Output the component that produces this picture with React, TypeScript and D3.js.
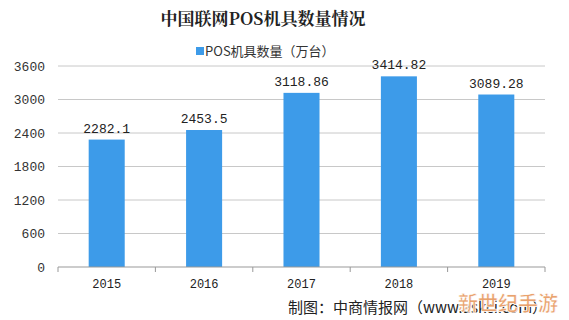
import React from "react";
import * as d3 from "d3";

const years = ["2015", "2016", "2017", "2018", "2019"];
const values = [2282.1, 2453.5, 3118.86, 3414.82, 3089.28];
const valueLabels = ["2282.1", "2453.5", "3118.86", "3414.82", "3089.28"];
const yTicks = [0, 600, 1200, 1800, 2400, 3000, 3600];
const title = "中国联网POS机具数量情况";
const seriesName = "POS机具数量（万台）";
const source = "制图：中商情报网（www.askci.com）";

export default function App() {
  const W = 569, H = 320;
  const left = 58, right = 545, top = 66, bottom = 267;
  const x = d3.scaleBand().domain(years).range([left, right]).paddingInner(0.63).paddingOuter(0.315);
  const band = d3.scaleBand().domain(years).range([left, right]);
  const y = d3.scaleLinear().domain([0, 3600]).range([bottom, top]);
  const color = "#3d9be9";
  const numFont = "'Liberation Mono', 'DejaVu Sans Mono', monospace";
  const cjk = "'Noto Sans CJK SC', sans-serif";
  return (
    <svg width={W} height={H} style={{ position: "absolute", left: 0, top: 0, background: "#fff" }}>
      <text x={263} y={25} textAnchor="middle" fontFamily="'Noto Serif CJK SC', 'Noto Sans CJK SC', serif" fontWeight="bold" fontSize={17} fill="#222">{title}</text>
      <rect x={196} y={47} width={8} height={8} fill={color} />
      <text x={205} y={56} fontFamily={cjk} fontSize={13} fill="#333">{seriesName}</text>
      {yTicks.map((t) => (
        <g key={t}>
          {t > 0 && <line x1={left} x2={right} y1={y(t)} y2={y(t)} stroke="#c8c8c8" strokeWidth={1} />}
          <text x={45} y={y(t) + 4.5} textAnchor="end" fontFamily={numFont} fontSize={13} fill="#333">{t}</text>
        </g>
      ))}
      {values.map((v, i) => (
        <rect key={years[i]} x={x(years[i])} y={y(v)} width={x.bandwidth()} height={bottom - y(v)} fill={color} />
      ))}
      {values.map((v, i) => (
        <text key={"l" + i} x={(x(years[i]) as number) + x.bandwidth() / 2} y={y(v) - 7} textAnchor="middle" fontFamily={numFont} fontSize={13} fill="#222">{valueLabels[i]}</text>
      ))}
      <line x1={left} x2={right} y1={bottom} y2={bottom} stroke="#999" />
      {[...years.map((yr) => band(yr) as number), right].map((px, i) => (
        <line key={"t" + i} x1={px} x2={px} y1={bottom} y2={bottom + 5} stroke="#999" />
      ))}
      {years.map((yr) => (
        <text key={"x" + yr} x={(band(yr) as number) + band.bandwidth() / 2} y={288} textAnchor="middle" fontFamily={numFont} fontSize={12} fill="#222">{yr}</text>
      ))}
      <text x={288} y={313} fontFamily={cjk} fontSize={15} fill="#222">{source}</text>
      <text x={458} y={311} fontFamily={cjk} fontWeight="bold" fontSize={20} fill="#e9a26e" stroke="#fff" strokeWidth={0.6}>新世纪手游</text>
    </svg>
  );
}
